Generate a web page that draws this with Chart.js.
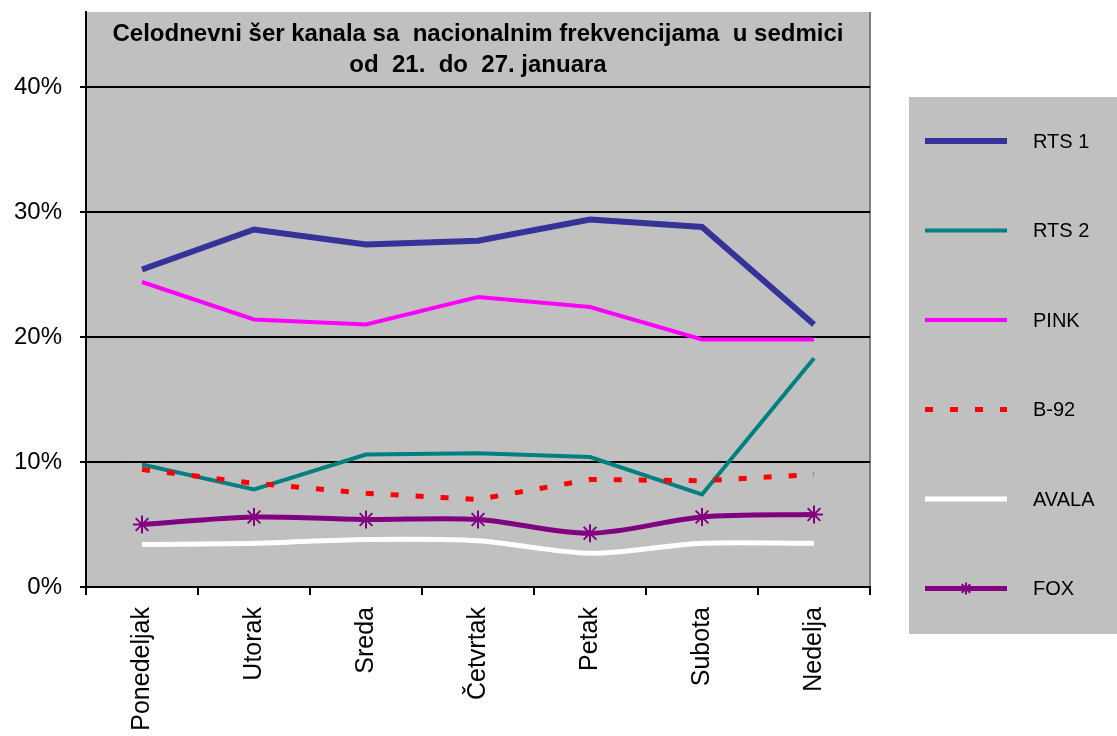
<!DOCTYPE html>
<html>
<head>
<meta charset="utf-8">
<script src="https://cdn.jsdelivr.net/npm/chart.js@4/dist/chart.umd.min.js"></script>
<style>
  body { margin: 0; background: #fff; }
  #wrap { width: 1117px; height: 736px; }
</style>
</head>
<body>
<div id="wrap"><canvas id="chart"></canvas></div>
<script>
// dani u sedmici
var days = ['Ponedeljak', 'Utorak', 'Sreda', 'Četvrtak', 'Petak', 'Subota', 'Nedelja'];

// ser po kanalima (%)
var rts1 = [25.4, 28.6, 27.4, 27.7, 29.4, 28.8, 21.0];
var rts2 = [9.8, 7.8, 10.6, 10.7, 10.4, 7.4, 18.3];
var pink = [24.4, 21.4, 21.0, 23.2, 22.4, 19.8, 19.8];
var b92 = [9.4, 8.3, 7.5, 7.0, 8.6, 8.5, 9.0];
var avala = [3.4, 3.5, 3.8, 3.7, 2.7, 3.5, 3.5];
var fox = [5.0, 5.6, 5.4, 5.4, 4.3, 5.6, 5.8];

var yTicks = [0, 10, 20, 30, 40];

var titleLines = ['Celodnevni šer kanala sa  nacionalnim frekvencijama  u sedmici', 'od  21.  do  27. januara'];

var FONT = '"Liberation Sans", Arial, sans-serif';

// siva pozadina + okvir
var plotBg = {
  id: 'plotBg',
  beforeDraw: function (chart) {
    var a = chart.chartArea, ctx = chart.ctx;
    ctx.save();
    ctx.fillStyle = '#C0C0C0';
    ctx.fillRect(a.left, a.top, a.right - a.left, a.bottom - a.top);
    ctx.strokeStyle = '#808080';
    ctx.lineWidth = 2;
    ctx.beginPath();
    ctx.moveTo(a.right, a.top);
    ctx.lineTo(a.right, a.bottom);
    ctx.stroke();
    ctx.restore();
  },
  beforeDatasetsDraw: function (chart) {
    // naslov unutar grafika
    var a = chart.chartArea, ctx = chart.ctx;
    var cx = (a.left + a.right) / 2;
    ctx.save();
    ctx.fillStyle = '#000';
    ctx.font = 'bold 24px ' + FONT;
    ctx.textAlign = 'center';
    ctx.textBaseline = 'alphabetic';
    ctx.fillText(titleLines[0], cx, 41);
    ctx.fillText(titleLines[1], cx, 72);
    ctx.restore();
  }
};

// legenda desno
var sideLegend = {
  id: 'sideLegend',
  afterDraw: function (chart) {
    var ctx = chart.ctx;
    ctx.save();
    ctx.fillStyle = '#C0C0C0';
    ctx.fillRect(909, 97, 208, 537);
    chart.data.datasets.forEach(function (ds, i) {
      var y = 141 + i * 89.5;
      ctx.strokeStyle = ds.borderColor;
      ctx.lineWidth = ds.borderWidth;
      ctx.setLineDash(ds.borderDash || []);
      ctx.beginPath();
      ctx.moveTo(925, y);
      ctx.lineTo(1007, y);
      ctx.stroke();
      ctx.setLineDash([]);
      if (ds.pointRadius > 0) {
        ctx.lineWidth = 2;
        Chart.helpers.drawPoint(ctx, {
          pointStyle: ds.pointStyle,
          radius: 6,
          borderWidth: 2
        }, 966, y);
      }
      ctx.fillStyle = '#000';
      ctx.font = '20px ' + FONT;
      ctx.textAlign = 'left';
      ctx.textBaseline = 'middle';
      ctx.fillText(ds.label, 1033, y + 1);
    });
    ctx.restore();
  }
};

function series(label, data, color, width, extra) {
  var ds = {
    label: label,
    data: data,
    borderColor: color,
    backgroundColor: color,
    borderWidth: width,
    pointRadius: 0,
    tension: 0,
    fill: false
  };
  for (var k in extra) ds[k] = extra[k];
  return ds;
}

var ctx = document.getElementById('chart').getContext('2d');
var chart = new Chart(ctx, {
  type: 'line',
  data: {
    labels: days,
    datasets: [
      series('RTS 1', rts1, '#333399', 6, { order: 6 }),
      series('RTS 2', rts2, '#008080', 4, { order: 5 }),
      series('PINK', pink, '#FF00FF', 4, { order: 4 }),
      series('B-92', b92, '#FF0000', 5, { order: 3, borderDash: [8, 17], borderCapStyle: 'butt' }),
      series('AVALA', avala, '#FFFFFF', 5, { order: 2, tension: 0.3 }),
      series('FOX', fox, '#800080', 5, {
        order: 1, tension: 0.3, pointStyle: 'star', pointRadius: 9,
        pointBorderWidth: 2, pointBorderColor: '#800080'
      })
    ]
  },
  options: {
    responsive: true,
    maintainAspectRatio: false,
    animation: false,
    layout: { padding: { top: 12, right: 247, left: 0, bottom: 0 } },
    plugins: {
      legend: { display: false },
      title: { display: false },
      tooltip: { enabled: false }
    },
    scales: {
      x: {
        type: 'category',
        offset: true,
        afterFit: function (s) {
          s.height = 149;
          s.paddingLeft = 0;
          s.paddingRight = 0;
        },
        grid: {
          offset: true,
          drawOnChartArea: false,
          drawTicks: true,
          tickLength: 8,
          color: '#000',
          lineWidth: 2
        },
        border: { display: true, color: '#000', width: 2 },
        ticks: {
          color: '#000',
          font: { family: FONT, size: 25 },
          minRotation: 90,
          maxRotation: 90,
          padding: 12,
          autoSkip: false
        }
      },
      y: {
        min: 0,
        max: 46,
        afterFit: function (s) {
          s.width = 86;
          s.paddingTop = 0;
          s.paddingBottom = 0;
        },
        afterBuildTicks: function (s) {
          s.ticks = yTicks.map(function (v) { return { value: v }; });
        },
        grid: {
          color: '#000',
          lineWidth: 2,
          drawTicks: true,
          tickLength: 6
        },
        border: { display: true, color: '#000', width: 2 },
        ticks: {
          color: '#000',
          font: { family: FONT, size: 24 },
          padding: 18,
          callback: function (v) { return v + '%'; }
        }
      }
    }
  },
  plugins: [plotBg, sideLegend]
});
</script>
</body>
</html>
